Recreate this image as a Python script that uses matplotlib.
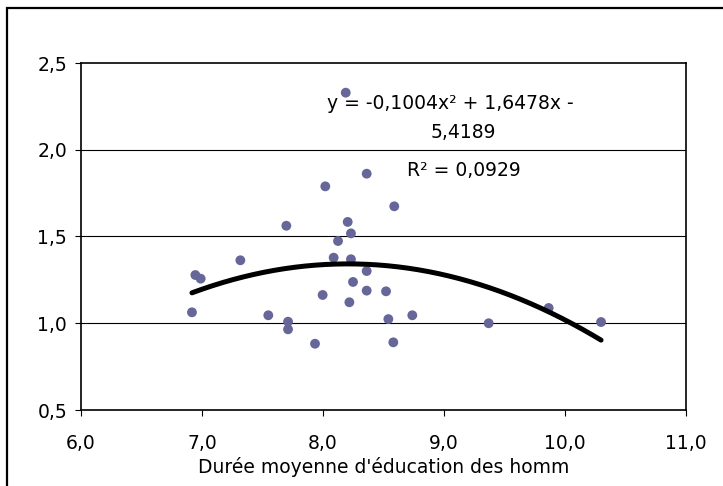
import matplotlib
matplotlib.use("Agg")
import matplotlib.pyplot as plt
import numpy as np
from matplotlib.patches import Rectangle

# Data
educ_hommes = [8.188, 8.361, 8.019, 8.589, 7.697, 8.204, 8.231, 8.124, 7.317, 8.088,
               8.231, 8.361, 6.945, 6.989, 8.248, 8.361, 8.521, 7.997, 8.218, 6.917,
               7.548, 8.738, 8.540, 7.711, 7.711, 7.934, 8.581, 9.865, 9.369, 10.298]
valeurs = [2.329, 1.862, 1.789, 1.674, 1.562, 1.584, 1.518, 1.474, 1.363, 1.378,
           1.369, 1.301, 1.278, 1.257, 1.238, 1.188, 1.184, 1.163, 1.121, 1.063,
           1.046, 1.046, 1.024, 1.009, 0.965, 0.882, 0.890, 1.088, 1.000, 1.007]
coef_poly = [-0.1004, 1.6478, -5.4189]
x_ticks = [6.0, 7.0, 8.0, 9.0, 10.0, 11.0]
y_ticks = [0.5, 1.0, 1.5, 2.0, 2.5]
x_label = "Durée moyenne d'éducation des homm"
eq_line1 = "y = -0,1004x² + 1,6478x -"
eq_line2 = "5,4189"
r2_text = "R² = 0,0929"

FS = 13.5
W, H = 723, 486
fig = plt.figure(figsize=(W / 100, H / 100), dpi=100)
fig.patch.set_facecolor("white")

# outer chart frame
fig.add_artist(Rectangle((7 / W, -0.05), 1.1, 1 - 8 / H + 0.05, transform=fig.transFigure,
                         fill=False, edgecolor="black", linewidth=1.6, clip_on=False))

ax = fig.add_axes([81 / W, 1 - 410 / H, (686 - 81) / W, (410 - 63) / H])
ax.set_xlim(6.0, 11.0)
ax.set_ylim(0.5, 2.5)

for yv in y_ticks[1:-1]:
    ax.axhline(yv, color="black", linewidth=0.8, zorder=1)

ax.scatter(educ_hommes, valeurs, s=50, color="#666699", edgecolors="none", zorder=3)

xs = np.linspace(min(educ_hommes), max(educ_hommes), 200)
ys = np.polyval(coef_poly, xs)
ax.plot(xs, ys, color="black", linewidth=3.6, solid_capstyle="round", zorder=4)

def fmt(v):
    return f"{v:.1f}".replace(".", ",")

ax.set_xticks(x_ticks)
ax.set_xticklabels([fmt(v) for v in x_ticks])
ax.set_yticks(y_ticks)
ax.set_yticklabels([fmt(v) for v in y_ticks])
ax.tick_params(axis="both", direction="out", length=4, width=0.8, labelsize=FS, colors="black")
ax.tick_params(axis="y", pad=6)
ax.tick_params(axis="x", pad=13)
for s in ax.spines.values():
    s.set_linewidth(1.2)
    s.set_color("black")

ax.set_xlabel(x_label, fontsize=FS, labelpad=3)

def px2data(px, py):
    return 6.0 + (px - 81) / 121.0, 2.5 - (py - 63) / 173.5

x1, y1 = px2data(327, 103)
ax.text(x1, y1, eq_line1, ha="left", va="center", fontsize=FS, zorder=5)
x2, y2 = px2data(463.5, 132)
ax.text(x2, y2, eq_line2, ha="center", va="center", fontsize=FS, zorder=5)
x3, y3 = px2data(464, 170)
ax.text(x3, y3, r2_text, ha="center", va="center", fontsize=FS, zorder=5)

fig.savefig("out.png", dpi=100, facecolor="white")
